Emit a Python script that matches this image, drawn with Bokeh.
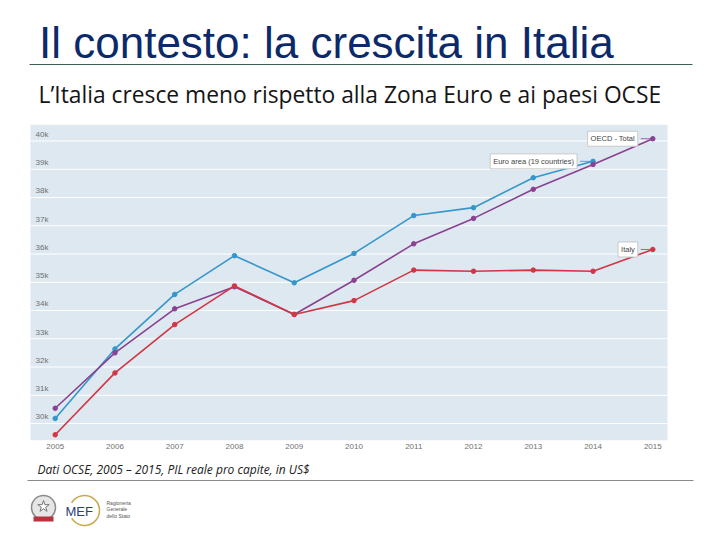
from bokeh.plotting import figure
from bokeh.models import Range1d, FixedTicker, Label
from bokeh.layouts import column
from bokeh.embed import file_html
from bokeh.resources import INLINE
from bokeh.core.properties import value

# dati OCSE, PIL reale pro capite (US$)
years = list(range(2005, 2016))
euro_area = [30180, 32640, 34570, 35940, 34980, 36020, 37360, 37640, 38700, 39280]
oecd_total = [30540, 32500, 34060, 34840, 33860, 35070, 36360, 37260, 38290, 39170, 40080]
italy = [29600, 31790, 33500, 34870, 33860, 34350, 35430, 35390, 35430, 35390, 36160]

y_ticks = [30000, 31000, 32000, 33000, 34000, 35000, 36000, 37000, 38000, 39000, 40000]
y_tick_labels = ["30k", "31k", "32k", "33k", "34k", "35k", "36k", "37k", "38k", "39k", "40k"]

title = "Il contesto: la crescita in Italia"
subtitle = "L\u2019Italia cresce meno rispetto alla Zona Euro e ai paesi OCSE"
caption = "Dati OCSE, 2005 \u2013 2015, PIL reale pro capite, in US$"

W = 704
C_EURO = "#3596cc"
C_OECD = "#8a4192"
C_ITA = "#d43544"

# pannello azzurro del grafico, in anni
PAD_L, PAD_R = 0.413, 0.246
PX_YEAR = 59.76


def blank(h):
    f = figure(width=W, height=h, x_range=Range1d(0, W), y_range=Range1d(h, 0),
               output_backend="svg", toolbar_location=None, min_border=0)
    f.axis.visible = False
    f.grid.visible = False
    f.outline_line_color = None
    f.background_fill_color = "white"
    f.border_fill_color = "white"
    return f


# intestazione
top = blank(124)
top.text(x=[38.5], y=[41.5], text=[title], text_font=value("Liberation Sans"),
         text_font_size="44px", text_color="#0c2a6a", text_baseline="middle")
top.segment(x0=[29], y0=[64], x1=[692], y1=[64], line_color="#3e5e55", line_width=1)
top.text(x=[38], y=[93.6], text=[subtitle], text_font=value("Open Sans"),
         text_font_size="22.8px", text_color="#151515", text_baseline="middle")

# grafico
x0 = years[0] - 54.7 / PX_YEAR
p = figure(width=W, height=335, x_range=Range1d(x0, x0 + W / PX_YEAR),
           y_range=Range1d(29398, 40584), output_backend="svg", toolbar_location=None,
           min_border_left=0, min_border_right=0, min_border_top=0, min_border_bottom=19)
p.background_fill_color = "white"
p.border_fill_color = "white"
p.outline_line_color = None
p.yaxis.visible = False
p.grid.visible = False

panel_l = years[0] - PAD_L
panel_r = years[-1] + PAD_R
p.quad(left=[panel_l], right=[panel_r], bottom=[p.y_range.start], top=[p.y_range.end],
       fill_color="#dde8f0", line_color=None)
p.segment(x0=[panel_l] * len(y_ticks), x1=[panel_r] * len(y_ticks), y0=y_ticks, y1=y_ticks,
          line_color="white", line_width=1.2)

p.xaxis.ticker = FixedTicker(ticks=years)
p.xaxis.axis_line_color = None
p.xaxis.major_tick_line_color = None
p.xaxis.minor_tick_line_color = None
p.xaxis.major_label_standoff = -3
p.xaxis.major_label_text_font_size = "8px"
p.xaxis.major_label_text_color = "#707070"
p.xaxis.major_label_text_font = "Liberation Sans"

p.text(x=[panel_l] * len(y_ticks), y=y_ticks, text=y_tick_labels,
       x_offset=5, y_offset=-2, text_baseline="bottom", text_font_size="8px",
       text_color="#707070", text_font=value("Liberation Sans"))

for vals, col in [(euro_area, C_EURO), (oecd_total, C_OECD), (italy, C_ITA)]:
    xs = years[:len(vals)]
    p.line(xs, vals, line_color=col, line_width=1.6)
    p.scatter(xs, vals, size=4.5, fill_color=col, line_color=col)

for x, y, txt, off, col in [(years[-1], oecd_total[-1], "OECD - Total", -15, C_OECD),
                            (years[len(euro_area) - 1], euro_area[-1],
                             "Euro area (19 countries)", -16, C_EURO),
                            (years[-1], italy[-1], "Italy", -15, C_ITA)]:
    # breve tratto dal riquadro al punto
    p.segment(x0=[x + (off + 3) / PX_YEAR], y0=[y], x1=[x], y1=[y],
              line_color=col, line_width=1, line_alpha=0.8)
    p.add_layout(Label(x=x, y=y, text=txt, x_offset=off, text_align="right",
                       text_baseline="middle", text_font_size="7.5px",
                       text_font="Liberation Sans", text_color="#444444",
                       background_fill_color="white", border_line_color="#c9c9c9",
                       padding=3))

# didascalia e logo
bot = blank(72)
bot.text(x=[37], y=[10], text=[caption], text_font=value("Open Sans"),
         text_font_style="italic", text_font_size="12px", text_color="#202020",
         text_baseline="middle")
bot.segment(x0=[27], y0=[21], x1=[693], y1=[21], line_color="#8a8a8a", line_width=1)
bot.scatter(x=[43], y=[48], size=24, marker="circle", fill_color="#e6e6e6",
            line_color="#8c8c8c", line_width=1.5)
bot.scatter(x=[43], y=[47], size=12, marker="star", fill_color="white",
            line_color="#777777")
bot.quad(left=[33], right=[53], top=[57], bottom=[62], fill_color="#b8333b",
         line_color=None)
bot.arc(x=[84], y=[51], radius=15, start_angle=-2.6, end_angle=2.6,
        line_color="#c9a84e", line_width=1.5)
bot.text(x=[65], y=[52.2], text=["MEF"], text_font=value("Liberation Sans"),
         text_font_size="13px", text_color="#2a3f7a", text_baseline="middle")
bot.text(x=[106, 106, 106], y=[43, 49, 56], text=["Ragioneria", "Generale", "dello Stato"],
         text_font=value("Liberation Sans"), text_font_size="5px",
         text_color="#555555", text_baseline="middle")

layout = column(top, p, bot, spacing=0)
open("out.html", "w").write(file_html(layout, INLINE))
